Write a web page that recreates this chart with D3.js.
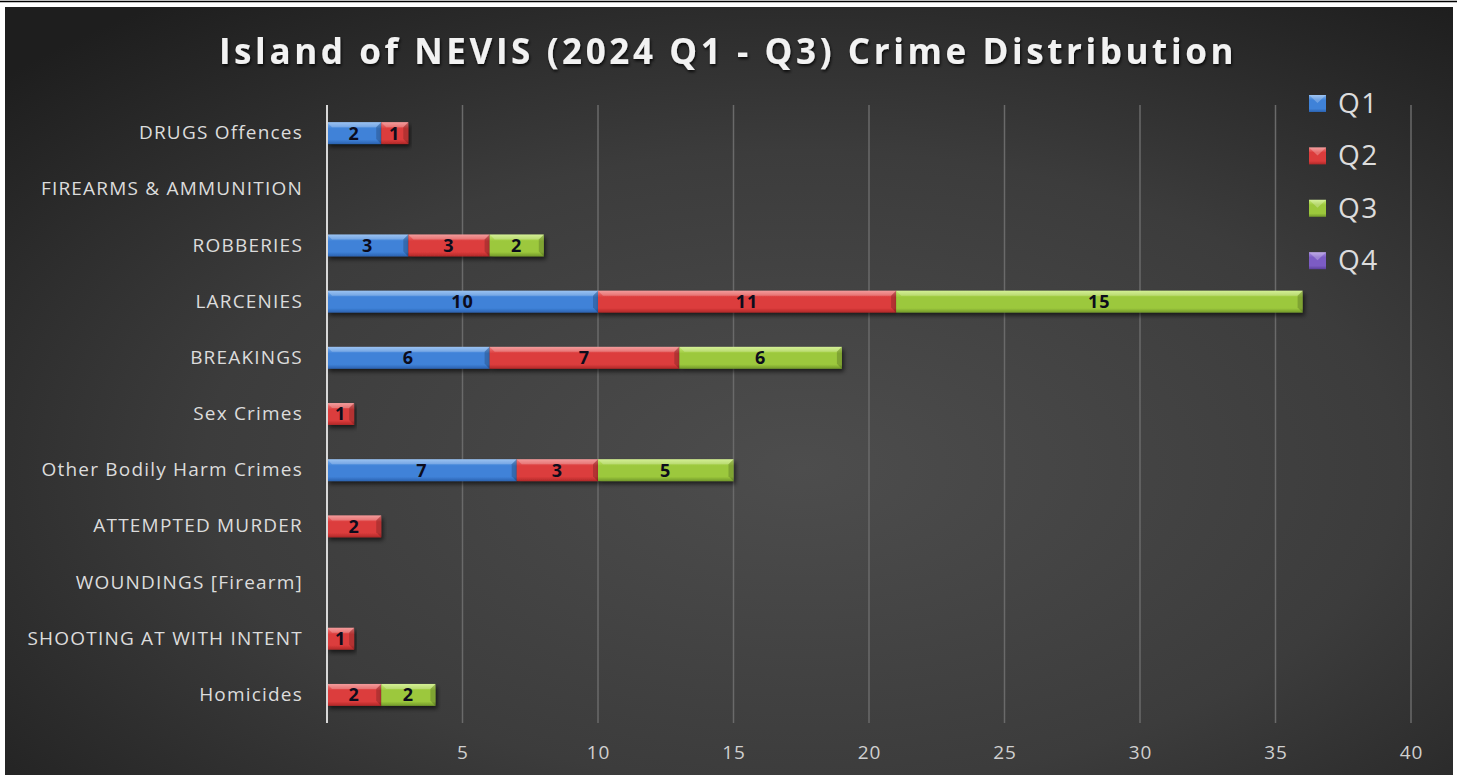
<!DOCTYPE html>
<html>
<head>
<meta charset="utf-8">
<script src="https://cdn.jsdelivr.net/npm/d3@7"></script>
<style>
  html, body { margin: 0; padding: 0; background: #fff; }
  svg { display: block; font-family: "Open Sans", sans-serif; }
</style>
</head>
<body>
<svg id="chart" width="1457" height="775"></svg>
<script>
  // data
  const categories = ['DRUGS Offences', 'FIREARMS & AMMUNITION', 'ROBBERIES', 'LARCENIES', 'BREAKINGS',
    'Sex Crimes', 'Other Bodily Harm Crimes', 'ATTEMPTED MURDER', 'WOUNDINGS [Firearm]',
    'SHOOTING AT WITH INTENT', 'Homicides']
  const seriesNames = ['Q1', 'Q2', 'Q3', 'Q4']
  const q1 = [2, 0, 3, 10, 6, 0, 7, 0, 0, 0, 0]
  const q2 = [1, 0, 3, 11, 7, 1, 3, 2, 0, 1, 2]
  const q3 = [0, 0, 2, 15, 6, 0, 5, 0, 0, 0, 2]
  const q4 = [0, 0, 0, 0, 0, 0, 0, 0, 0, 0, 0]
  const xTicks = [5, 10, 15, 20, 25, 30, 35, 40]

  const colors = {
    Q1: ['#7fb2ee', '#3f82d8', '#2b62b0'],
    Q2: ['#f08080', '#dc3c3c', '#b02828'],
    Q3: ['#c8ec78', '#9cc83c', '#72982a'],
    Q4: ['#a98ee0', '#7c5cc4', '#5c3f9c']
  }

  const width = 1457
  const height = 775
  const plot = { left: 327, right: 1411, top: 105, bottom: 723 }

  const svg = d3.select('#chart')
  const defs = svg.append('defs')

  // background panel
  const bg = defs.append('radialGradient').attr('id', 'bg')
    .attr('cx', '0.55').attr('cy', '0.6').attr('r', '0.75')
  bg.append('stop').attr('offset', '0%').attr('stop-color', '#4d4d4d')
  bg.append('stop').attr('offset', '55%').attr('stop-color', '#3c3c3c')
  bg.append('stop').attr('offset', '100%').attr('stop-color', '#1e1e1e')

  svg.append('line').attr('x1', 0).attr('x2', width).attr('y1', 1.5).attr('y2', 1.5)
    .style('stroke', '#000').style('stroke-width', 1.5)
  svg.append('rect').attr('x', 5).attr('y', 7).attr('width', 1448).attr('height', height - 7)
    .style('fill', 'url(#bg)')

  seriesNames.forEach(s => {
    const g = defs.append('linearGradient').attr('id', 'grad-' + s)
      .attr('x1', 0).attr('x2', 0).attr('y1', 0).attr('y2', 1)
    g.append('stop').attr('offset', '0%').attr('stop-color', colors[s][0])
    g.append('stop').attr('offset', '30%').attr('stop-color', colors[s][1])
    g.append('stop').attr('offset', '80%').attr('stop-color', colors[s][1])
    g.append('stop').attr('offset', '100%').attr('stop-color', colors[s][2])
  })

  const shadow = defs.append('filter').attr('id', 'shadow')
    .attr('x', '-10%').attr('y', '-30%').attr('width', '120%').attr('height', '180%')
  shadow.append('feDropShadow').attr('dx', 2).attr('dy', 3).attr('stdDeviation', 2)
    .attr('flood-color', '#000').attr('flood-opacity', 0.6)

  const titleShadow = defs.append('filter').attr('id', 'tshadow')
  titleShadow.append('feDropShadow').attr('dx', 1).attr('dy', 2).attr('stdDeviation', 1.5)
    .attr('flood-color', '#000').attr('flood-opacity', 0.8)

  // scales
  const x = d3.scaleLinear().domain([0, 40]).range([plot.left, plot.right])
  const y = d3.scaleBand().domain(categories).range([plot.top, plot.bottom]).paddingInner(0.61).paddingOuter(0.305)

  // title
  svg.append('text')
    .attr('x', 728).attr('y', 64)
    .style('text-anchor', 'middle')
    .style('font-size', '35px').style('font-weight', 'bold')
    .style('letter-spacing', '3.6px')
    .style('fill', '#f2f2f2')
    .attr('filter', 'url(#tshadow)')
    .text('Island of NEVIS (2024 Q1 - Q3) Crime Distribution')

  // gridlines
  svg.append('g').selectAll('line').data(xTicks).join('line')
    .attr('x1', d => x(d)).attr('x2', d => x(d))
    .attr('y1', plot.top).attr('y2', plot.bottom)
    .style('stroke', '#6a6a6a').style('stroke-width', 1.5)

  // x axis labels
  const xAxis = svg.append('g')
    .attr('transform', `translate(0,${plot.bottom + 19})`)
    .call(d3.axisBottom(x).tickValues(xTicks).tickSize(0))
  xAxis.select('.domain').remove()
  xAxis.selectAll('text').style('font-size', '19px').style('fill', '#d0d0d0')
    .style('letter-spacing', '1px')
    .style('font-family', '"Open Sans", sans-serif')

  // y axis labels
  const yAxis = svg.append('g')
    .attr('transform', `translate(${plot.left - 21},0)`)
    .call(d3.axisLeft(y).tickSize(0))
  yAxis.select('.domain').remove()
  yAxis.selectAll('text').style('font-size', '19px').style('fill', '#dcdcdc')
    .style('letter-spacing', '1.2px')
    .style('font-family', '"Open Sans", sans-serif')

  // stacked bars
  const rows = categories.map((c, i) => ({ cat: c, Q1: q1[i], Q2: q2[i], Q3: q3[i], Q4: q4[i] }))
  const stack = d3.stack().keys(seriesNames)(rows)

  const bh = y.bandwidth()
  const layers = svg.append('g').selectAll('g').data(stack).join('g')
  const segs = layers.selectAll('g').data(d => d.filter(v => v[1] - v[0] > 0).map(v => ({ key: d.key, v })))
    .join('g')

  segs.append('rect')
    .attr('x', d => x(d.v[0])).attr('y', d => y(d.v.data.cat))
    .attr('width', d => x(d.v[1]) - x(d.v[0])).attr('height', bh)
    .style('fill', d => `url(#grad-${d.key})`)
    .attr('filter', 'url(#shadow)')

  // bevel highlight on top edge
  segs.append('path')
    .attr('d', d => {
      const x0 = x(d.v[0])
      const x1 = x(d.v[1])
      const y0 = y(d.v.data.cat)
      const b = 5
      return `M${x0},${y0}L${x1},${y0}L${x1 - b},${y0 + b}L${x0 + b},${y0 + b}Z`
    })
    .style('fill', '#fff').style('opacity', 0.22)
  segs.append('path')
    .attr('d', d => {
      const x1 = x(d.v[1])
      const y0 = y(d.v.data.cat)
      const b = 5
      return `M${x1},${y0}L${x1},${y0 + bh}L${x1 - b},${y0 + bh - b}L${x1 - b},${y0 + b}Z`
    })
    .style('fill', '#000').style('opacity', 0.18)

  segs.append('text')
    .attr('x', d => (x(d.v[0]) + x(d.v[1])) / 2)
    .attr('y', d => y(d.v.data.cat) + bh / 2)
    .attr('dy', '0.36em')
    .style('text-anchor', 'middle')
    .style('font-size', '18px').style('font-weight', 'bold')
    .style('letter-spacing', '1px')
    .style('fill', '#0c0c1c')
    .text(d => d.v[1] - d.v[0])

  // axis line
  svg.append('line')
    .attr('x1', x(0)).attr('x2', x(0)).attr('y1', plot.top).attr('y2', plot.bottom)
    .style('stroke', '#d8d8d8').style('stroke-width', 2)

  // legend
  const legend = svg.append('g').attr('transform', 'translate(1309,103)')
  const li = legend.selectAll('g').data(seriesNames).join('g')
    .attr('transform', (d, i) => `translate(0,${i * 52.4})`)
  li.append('rect').attr('x', 0).attr('y', -8).attr('width', 17).attr('height', 17)
    .style('fill', d => `url(#grad-${d})`)
  li.append('path')
    .attr('d', 'M0,-8L17,-8L8.5,0Z')
    .style('fill', '#fff').style('opacity', 0.25)
  li.append('text').attr('x', 29).attr('y', 0).attr('dy', '0.36em')
    .style('font-size', '28px').style('fill', '#dcdcdc')
    .style('letter-spacing', '1.5px')
    .text(d => d)
</script>
</body>
</html>
